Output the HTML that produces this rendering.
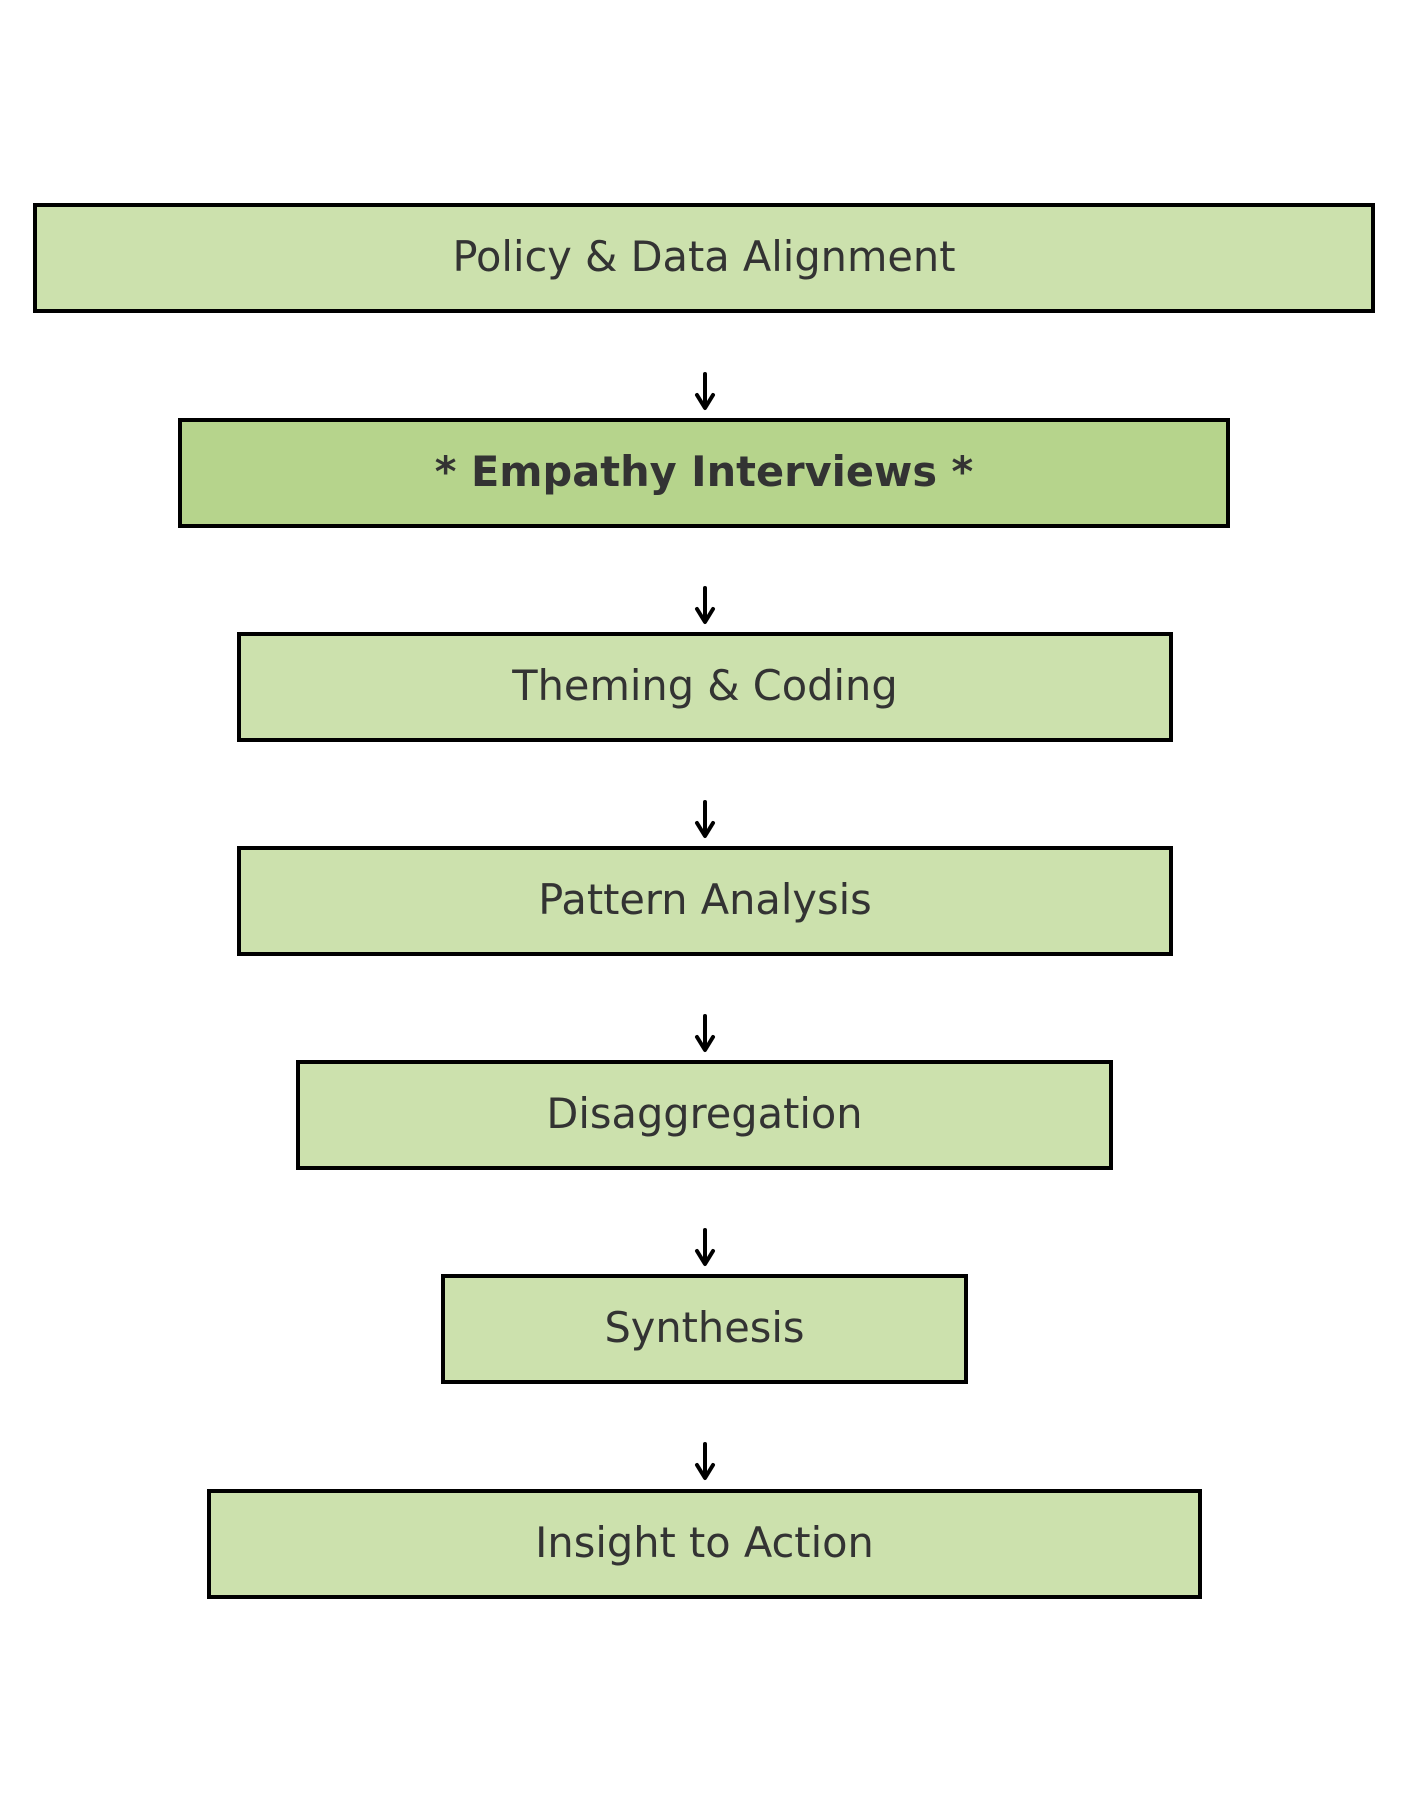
<!DOCTYPE html>
<html><head><meta charset="utf-8"><style>
body{margin:0;width:1410px;height:1800px;background:#fff;position:relative;overflow:hidden;font-family:"DejaVu Sans","Liberation Sans",sans-serif;}
.b{position:absolute;box-sizing:border-box;border:4px solid #000;background:#cce1ad;color:#333;font-size:41.5px;display:flex;align-items:center;justify-content:center;padding-bottom:4px;}
</style></head><body>
<div class="b" style="left:33px;top:203px;width:1342px;height:110px">Policy &amp; Data Alignment</div>
<div class="b" style="left:178px;top:418px;width:1052px;height:110px;background:#b6d48c;font-weight:bold">* Empathy Interviews *</div>
<div class="b" style="left:237px;top:632px;width:936px;height:110px">Theming &amp; Coding</div>
<div class="b" style="left:237px;top:846px;width:936px;height:110px">Pattern Analysis</div>
<div class="b" style="left:296px;top:1060px;width:817px;height:110px">Disaggregation</div>
<div class="b" style="left:441px;top:1274px;width:527px;height:110px">Synthesis</div>
<div class="b" style="left:207px;top:1489px;width:995px;height:110px">Insight to Action</div>
<svg width="1410" height="1800" style="position:absolute;left:0;top:0" fill="none" stroke="#000" stroke-width="4" stroke-linecap="round" stroke-linejoin="round">
<g id="ar"><path d="M705 374V407M697 395L705 408L713 395"/></g>
<use href="#ar" y="214"/><use href="#ar" y="428"/><use href="#ar" y="642"/><use href="#ar" y="856"/><use href="#ar" y="1070"/>
</svg>
</body></html>
